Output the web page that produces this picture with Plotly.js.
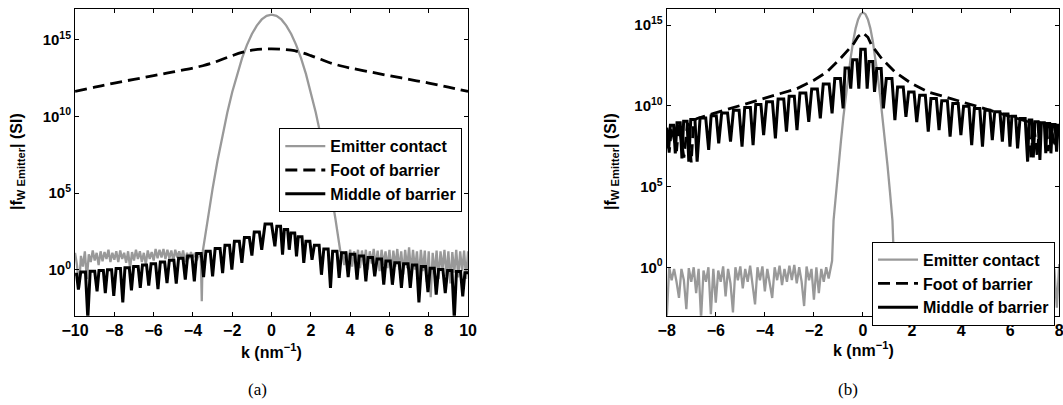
<!DOCTYPE html>
<html><head><meta charset="utf-8">
<script src="https://cdn.plot.ly/plotly-3.0.1.min.js"></script>
<style>html,body{margin:0;padding:0;background:#fff}#chart{width:1063px;height:405px}</style>
</head><body><div id="chart"></div>
<script>
// All value arrays below are log10(|f|).
// ---------- Panel (a) ----------
const kEmitA = [-10,-9.9,-9.8,-9.7,-9.6,-9.5,-9.4,-9.3,-9.2,-9.1,-9,-8.9,-8.8,-8.7,-8.6,-8.5,-8.4,-8.3,-8.2,-8.1,-8,-7.9,-7.8,-7.7,-7.6,-7.5,-7.4,-7.3,-7.2,-7.1,-7,-6.9,-6.8,-6.7,-6.6,-6.5,-6.4,-6.3,-6.2,-6.1,-6,-5.9,-5.8,-5.7,-5.6,-5.5,-5.4,-5.3,-5.2,-5.1,-5,-4.9,-4.8,-4.7,-4.6,-4.5,-4.4,-4.3,-4.2,-4.1,-4,-3.9,-3.8,-3.7,-3.6,
 -3.55,-3.5,-3.25,-3,-2.75,-2.5,-2.25,-2,-1.75,-1.5,-1.25,-1,-0.75,-0.5,-0.25,0,0.25,0.5,0.75,1,1.25,1.5,1.75,2,2.25,2.5,2.75,3,3.25,3.5,
 3.6,3.7,3.8,3.9,4,4.1,4.2,4.3,4.4,4.5,4.6,4.7,4.8,4.9,5,5.1,5.2,5.3,5.4,5.5,5.6,5.7,5.8,5.9,6,6.1,6.2,6.3,6.4,6.5,6.6,6.7,6.8,6.9,7,7.1,7.2,7.3,7.4,7.5,7.6,7.7,7.8,7.9,8,8.1,8.2,8.3,8.4,8.5,8.6,8.7,8.8,8.9,9,9.1,9.2,9.3,9.4,9.5,9.6,9.7,9.8,9.9,10];
const lgEmitA = [1.1,0.3,-1.2,0.9,0.2,1.2,-0.6,1.0,0.5,1.25,0.6,1.1,0.3,1.2,0.55,1.15,0.7,1.3,0.5,1.1,0.65,1.2,0.5,1.25,0.7,1.1,0.45,1.2,0.1,1.15,0.6,1.3,0.7,1.2,0.5,1.1,0.35,1.25,0.7,1.15,0.6,1.35,0.75,1.3,0.8,1.35,0.7,1.3,0.75,1.25,0.6,1.3,0.8,1.2,0.7,1.25,0.5,1.1,0.7,1.15,0.75,1.1,0.6,1.0,0.8,
 -2.06,1.2,3.32,5.29,7.10,8.76,10.25,11.59,12.77,13.80,14.66,15.37,15.92,16.32,16.55,16.63,16.55,16.32,15.92,15.37,14.66,13.80,12.77,11.59,10.25,8.76,7.10,5.29,3.32,1.2,
 1.1,0.3,1.2,0.5,1.3,0.2,1.2,0.4,1.3,0.1,1.25,0.3,1.3,0.0,1.2,0.4,1.35,0.2,1.25,-0.1,1.3,0.3,1.2,0.1,1.3,-0.2,1.25,0.2,1.35,0.0,1.2,-0.3,1.3,0.1,1.45,-0.2,1.3,0.0,1.2,-0.5,1.3,-0.1,1.25,-0.8,1.2,-1.8,1.1,-0.3,1.25,-0.6,1.2,0.0,1.3,-0.4,1.2,-0.9,1.15,-0.2,1.3,-0.5,1.2,-0.1,1.25,-0.6,1.2];

const kFootA = [-10,-9,-8,-7,-6,-5,-4,-3.5,-3,-2.5,-2,-1.5,-1,-0.5,0,0.5,1,1.5,2,2.5,3,3.5,4,5,6,7,8,9,10];
const lgFootA = [11.63,11.9,12.17,12.41,12.65,12.9,13.15,13.3,13.48,13.72,13.96,14.17,14.31,14.38,14.4,14.38,14.31,14.17,13.96,13.72,13.48,13.3,13.15,12.9,12.65,12.41,12.17,11.9,11.63];

const kMidA = [-10,-9.92,-9.83,-9.71,-9.47,-9.35,-9.23,-9.0,-8.88,-8.78,-8.56,-8.46,-8.35,-8.14,-8.03,-7.91,-7.69,-7.57,-7.46,-7.24,-7.13,-7.02,-6.79,-6.68,-6.57,-6.36,-6.25,-6.13,-5.9,-5.78,-5.66,-5.44,-5.32,-5.2,-4.97,-4.85,-4.73,-4.51,-4.39,-4.27,-4.05,-3.93,-3.81,-3.58,-3.46,-3.34,-3.12,-3.0,-2.87,-2.62,-2.49,-2.37,-2.14,-2.02,-1.89,-1.64,-1.51,-1.38,-1.13,-1.0,-0.88,-0.62,-0.5,-0.33,0.0,
 0.17,0.27,0.46,0.56,0.65,0.82,0.9,0.99,1.18,1.27,1.36,1.55,1.64,1.75,1.95,2.06,2.18,2.42,2.54,2.66,2.88,3.0,3.11,3.33,3.44,3.56,3.78,3.9,4.01,4.24,4.35,4.46,4.69,4.8,4.91,5.14,5.25,5.37,5.6,5.71,5.82,6.04,6.15,6.27,6.5,6.61,6.72,6.95,7.06,7.17,7.39,7.5,7.62,7.84,7.96,8.07,8.28,8.38,8.5,8.72,8.84,8.96,9.18,9.3,9.41,9.62,9.73,9.84,10];
const lgMidA = [-0.3,-0.3,-1.3,-0.15,-0.15,-3.2,-0.1,-0.1,-1.41,-0.05,-0.05,-1.52,0,0,-1.7,0.08,0.08,-2.13,0.13,0.13,-1.35,0.2,0.2,-1.19,0.3,0.3,-1.04,0.38,0.38,-1.26,0.5,0.5,-0.87,0.62,0.62,-0.91,0.75,0.75,-0.65,0.9,0.9,-0.76,1.05,1.05,-0.48,1.2,1.2,-0.43,1.38,1.38,-0.22,1.6,1.6,0,1.85,1.85,0.44,2.1,2.1,0.92,2.45,2.45,1.3,2.98,2.98,
 1.52,2.83,2.83,0.98,2.62,2.62,1.3,2.4,2.4,0.87,2.15,2.15,0.44,1.85,1.85,0.65,1.6,1.6,-0.33,1.35,1.35,-1.19,1.2,1.2,-0.54,1.1,1.1,-0.48,1.0,1.0,-0.65,0.9,0.9,-0.76,0.8,0.8,-0.43,0.7,0.7,-0.98,0.57,0.57,-0.98,0.45,0.45,-1.19,0.38,0.38,-1.19,0.3,0.3,-2.13,0.2,0.2,-1.47,0.1,0.1,-1.63,0.02,0.02,-1.52,-0.05,-0.05,-3.2,-0.12,-0.12,-1.74,-0.2,-0.2];

// ---------- Panel (b) ----------
const kEmitB = [-8,-7.9,-7.8,-7.7,-7.6,-7.5,-7.4,-7.3,-7.2,-7.1,-7,-6.9,-6.8,-6.7,-6.6,-6.5,-6.4,-6.3,-6.2,-6.1,-6,-5.9,-5.8,-5.7,-5.6,-5.5,-5.4,-5.3,-5.2,-5.1,-5,-4.9,-4.8,-4.7,-4.6,-4.5,-4.4,-4.3,-4.2,-4.1,-4,-3.9,-3.8,-3.7,-3.6,-3.5,-3.4,-3.3,-3.2,-3.1,-3,-2.9,-2.8,-2.7,-2.6,-2.5,-2.4,-2.3,-2.2,-2.1,-2,-1.9,-1.8,-1.7,-1.6,-1.5,-1.4,-1.3,
 -1.26,-1.2,-1.1,-1,-0.9,-0.8,-0.7,-0.6,-0.5,-0.4,-0.3,-0.2,-0.1,0,0.1,0.2,0.3,0.4,0.5,0.6,0.7,0.8,0.9,1,1.1,1.2,1.26,
 1.3,1.4,1.5,1.6,1.7,1.8,1.9,2,2.1,2.2,2.3,2.4,2.5,2.6,2.7,2.8,2.9,3,3.1,3.2,3.3,3.4,3.5,3.6,3.7,3.8,3.9,4,4.1,4.2,4.3,4.4,4.5,4.6,4.7,4.8,4.9,5,5.1,5.2,5.3,5.4,5.5,5.6,5.7,5.8,5.9,6,6.1,6.2,6.3,6.4,6.5,6.6,6.7,6.8,6.9,7,7.1,7.2,7.3,7.4,7.5,7.6,7.7,7.8,7.9,8];
const lgEmitB = [-3.2,0.0,-0.8,-0.1,-0.9,-1.9,-0.1,-0.8,-2.6,-0.05,-0.9,0.0,-1.6,-0.1,-3.2,-0.2,-0.9,0.0,-2.9,-0.1,-2.2,-0.2,-0.9,0.05,-1.8,-0.1,-1.0,-2.8,0.0,-0.8,0.05,-1.3,-0.1,-0.9,0.1,-1.0,-2.3,0.0,-0.8,0.05,-1.5,-0.1,-0.9,-1.9,0.0,-0.8,0.1,-1.1,-0.1,-0.9,0.1,-0.8,0.15,-1.0,0.0,-0.9,-2.4,0.05,-0.8,-0.1,-2.0,0.0,-1.6,-0.1,-0.9,0.0,-0.7,0.1,
 0.4,2.9,4.65,6.3,7.8,9.3,10.6,11.85,13.0,14.0,14.8,15.35,15.68,15.78,15.68,15.35,14.8,14.0,13.0,11.85,10.6,9.3,7.8,6.3,4.65,2.9,0.4,
 0.1,-0.8,0.0,-1.0,-0.1,-0.9,0.05,-1.2,-0.1,-0.9,0.0,-1.4,-0.1,-0.8,0.1,-1.0,-0.1,-0.9,0.0,-1.1,-0.1,-0.8,0.05,-1.3,-0.1,-0.9,0.0,-1.0,-0.1,-0.9,0.0,-1.5,-0.1,-0.8,0.05,-1.1,-0.1,-0.9,-2.9,0.0,-0.9,-0.1,-1.2,0.0,-2.8,-0.1,-0.9,-3.0,-0.1,-0.9,-2.9,0.0,-1.0,-0.1,-1.3,0.0,-2.8,-0.1,-0.9,0.05,-1.4,-0.1,-0.9,0.0,-1.1,-0.1,-2.5,0.2];

const kFootB = [-8,-7.9,-7.8,-7.6,-7.5,-7.3,-7.15,-7.0,-6.9,-6.76,-6.08,-5.4,-4.73,-4.05,-3.37,-2.69,-2.0,-1.47,-0.92,-0.38,-0.2,0,0.2,0.35,0.76,1.3,1.98,2.66,3.34,4.02,4.7,5.38,6.06,6.74,6.85,6.95,7.1,7.2,7.42,7.55,7.65,7.85,7.95,8];
const lgFootB = [8.6,7.1,8.7,7.2,8.85,6.8,8.95,6.5,9.1,9.22,9.53,9.84,10.15,10.46,10.77,11.07,11.59,12.1,12.93,13.85,14.3,14.53,14.25,13.75,12.93,12.1,11.38,10.86,10.56,10.25,9.94,9.63,9.32,9.01,6.7,9.0,6.9,8.95,8.75,7.2,8.7,7.4,8.55,8.5];

const kMidB = [-8.0,-7.92,-7.85,-7.72,-7.65,-7.58,-7.45,-7.38,-7.31,-7.17,-7.1,-7.02,-6.85,-6.76,-6.64,-6.41,-6.29,-6.19,-5.98,-5.88,-5.76,-5.52,-5.4,-5.28,-5.05,-4.93,-4.82,-4.59,-4.48,-4.37,-4.16,-4.05,-3.93,-3.69,-3.57,-3.46,-3.23,-3.12,-3.01,-2.8,-2.69,-2.57,-2.33,-2.21,-2.09,-1.86,-1.74,-1.62,-1.38,-1.26,-1.15,-0.92,-0.81,-0.73,-0.58,-0.5,-0.42,-0.25,-0.17,-0.09,0.09,
 0.17,0.25,0.4,0.47,0.56,0.74,0.83,0.95,1.18,1.3,1.41,1.64,1.75,1.86,2.08,2.19,2.31,2.54,2.66,2.77,2.99,3.1,3.21,3.44,3.55,3.66,3.88,3.99,4.1,4.32,4.43,4.54,4.76,4.87,4.97,5.17,5.27,5.37,5.58,5.68,5.76,5.91,5.99,6.07,6.22,6.3,6.4,6.61,6.71,6.77,6.88,6.94,7.01,7.14,7.21,7.27,7.39,7.45,7.5,7.61,7.66,7.72,7.83,7.89,7.95,8.0];
const lgMidB = [8.65,7.37,8.8,8.8,7.06,8.95,8.95,6.75,9.05,9.05,6.54,9.15,9.15,6.54,9.25,9.25,7.27,9.38,9.38,7.68,9.55,9.55,7.78,9.72,9.72,7.47,9.9,9.9,7.57,10.08,10.08,8.19,10.25,10.25,7.99,10.42,10.42,8.4,10.6,10.6,8.5,10.8,10.8,9.01,11.05,11.05,9.22,11.35,11.35,9.53,11.7,11.7,9.84,12.35,12.35,11.07,12.85,12.85,11.07,13.5,13.5,
 11.07,12.75,12.75,10.86,12.31,12.31,9.84,11.69,11.69,9.12,11.17,11.17,9.32,10.86,10.86,9.0,10.66,10.66,8.4,10.46,10.46,8.5,10.31,10.31,8.09,10.15,10.15,8.19,9.98,9.98,7.57,9.84,9.84,7.47,9.73,9.73,7.88,9.63,9.63,7.78,9.49,9.49,7.47,9.36,9.36,7.37,9.22,9.22,6.54,9.12,9.12,6.8,9.01,9.01,6.65,8.95,8.95,7.06,8.91,8.91,7.06,8.85,8.85,7.16,8.8,8.8];

const seriesNames = ['Emitter contact','Foot of barrier','Middle of barrier'];
const yTickVals = [1,1e5,1e10,1e15];
const yTickText = ['10<sup>0</sup>','10<sup>5</sup>','10<sup>10</sup>','10<sup>15</sup>'];
const xTicksA = [-10,-8,-6,-4,-2,0,2,4,6,8,10];
const xTicksB = [-8,-6,-4,-2,0,2,4,6,8];

const toVal = a => a.map(v => Math.pow(10, v));
const GRAY = '#999999';
const FONT = 'Arial, Liberation Sans, Helvetica, sans-serif';

function tr(k, lg, name, color, width, dash, shape, xa, ya, leg) {
  return {x: k, y: toVal(lg), name: name, type: 'scatter', mode: 'lines',
    line: {color: color, width: width, dash: dash, shape: shape}, xaxis: xa, yaxis: ya, legend: leg};
}
const data = [
  tr(kEmitA, lgEmitA, seriesNames[0], GRAY, 2.3, 'solid', 'linear', 'x', 'y', 'legend'),
  tr(kFootA, lgFootA, seriesNames[1], '#000', 2.8, '12px,6px', 'spline', 'x', 'y', 'legend'),
  tr(kMidA, lgMidA, seriesNames[2], '#000', 3, 'solid', 'linear', 'x', 'y', 'legend'),
  tr(kEmitB, lgEmitB, seriesNames[0], GRAY, 2.3, 'solid', 'linear', 'x2', 'y2', 'legend2'),
  tr(kFootB, lgFootB, seriesNames[1], '#000', 2.8, '12px,6px', 'linear', 'x2', 'y2', 'legend2'),
  tr(kMidB, lgMidB, seriesNames[2], '#000', 3, 'solid', 'linear', 'x2', 'y2', 'legend2')
];

const tickFont = {family: FONT, size: 16, color: '#000', weight: 'bold'};
const yTickFont = {family: FONT, size: 15, color: '#000', weight: 'bold'};
function xax(dom, range, ticks) {
  return {domain: dom, range: range, tickvals: ticks, ticks: 'inside', ticklen: 4, tickwidth: 1,
    tickcolor: '#000', showline: true, linecolor: '#000', linewidth: 1, mirror: 'ticks',
    showgrid: false, zeroline: false, tickfont: tickFont, automargin: false, ticklabeloverflow: 'allow'};
}
function yax(range, anchor) {
  return {domain: [0.2205, 0.9778], type: 'log', range: range, tickvals: yTickVals, ticktext: yTickText,
    ticks: 'inside', ticklen: 4, tickwidth: 1, tickcolor: '#000', showline: true, linecolor: '#000',
    linewidth: 1, mirror: 'ticks', showgrid: false, zeroline: false, tickfont: yTickFont,
    anchor: anchor, automargin: false, ticklabeloverflow: 'allow'};
}
const legFont = {family: FONT, size: 16, color: '#000', weight: 'bold'};
const bold = {family: FONT, size: 16, color: '#000', weight: 'bold'};
const serif = {family: 'Times New Roman, Liberation Serif, serif', size: 17, color: '#000'};
const layout = {
  width: 1063, height: 405, margin: {l: 0, r: 0, t: 0, b: 0},
  paper_bgcolor: '#fff', plot_bgcolor: '#fff', showlegend: true,
  xaxis: Object.assign(xax([0.0706, 0.4403], [-10, 10], xTicksA), {anchor: 'y'}),
  yaxis: yax([-3, 17], 'x'),
  xaxis2: Object.assign(xax([0.6272, 0.9965], [-8, 8], xTicksB), {anchor: 'y2'}),
  yaxis2: yax([-3, 16], 'x2'),
  legend: {x: 0.4349, y: 0.6832, xanchor: 'right', yanchor: 'top', bgcolor: '#fff',
    bordercolor: '#000', borderwidth: 1, font: legFont, itemwidth: 40, tracegroupgap: 0},
  legend2: {x: 0.9925, y: 0.4032, xanchor: 'right', yanchor: 'top', bgcolor: '#fff',
    bordercolor: '#000', borderwidth: 1, font: legFont, itemwidth: 40, tracegroupgap: 0},
  annotations: [
    {text: 'k (nm<sup>\u22121</sup>)', xref: 'paper', yref: 'paper', x: 271/1063, y: 1 - 351/405, showarrow: false, font: bold, xanchor: 'center', yanchor: 'middle'},
    {text: 'k (nm<sup>\u22121</sup>)', xref: 'paper', yref: 'paper', x: 863/1063, y: 1 - 349/405, showarrow: false, font: bold, xanchor: 'center', yanchor: 'middle'},
    {text: '|f<sub>W Emitter</sub>| (SI)', xref: 'paper', yref: 'paper', x: 17/1063, y: 1 - 162/405, showarrow: false, font: bold, textangle: -90, xanchor: 'center', yanchor: 'middle'},
    {text: '|f<sub>W Emitter</sub>| (SI)', xref: 'paper', yref: 'paper', x: 611/1063, y: 1 - 162/405, showarrow: false, font: bold, textangle: -90, xanchor: 'center', yanchor: 'middle'},
    {text: '(a)', xref: 'paper', yref: 'paper', x: 257/1063, y: 1 - 389/405, showarrow: false, font: serif, xanchor: 'center', yanchor: 'middle'},
    {text: '(b)', xref: 'paper', yref: 'paper', x: 848/1063, y: 1 - 389/405, showarrow: false, font: serif, xanchor: 'center', yanchor: 'middle'}
  ]
};
Plotly.newPlot('chart', data, layout, {displayModeBar: false, staticPlot: true});
</script>
</body></html>
